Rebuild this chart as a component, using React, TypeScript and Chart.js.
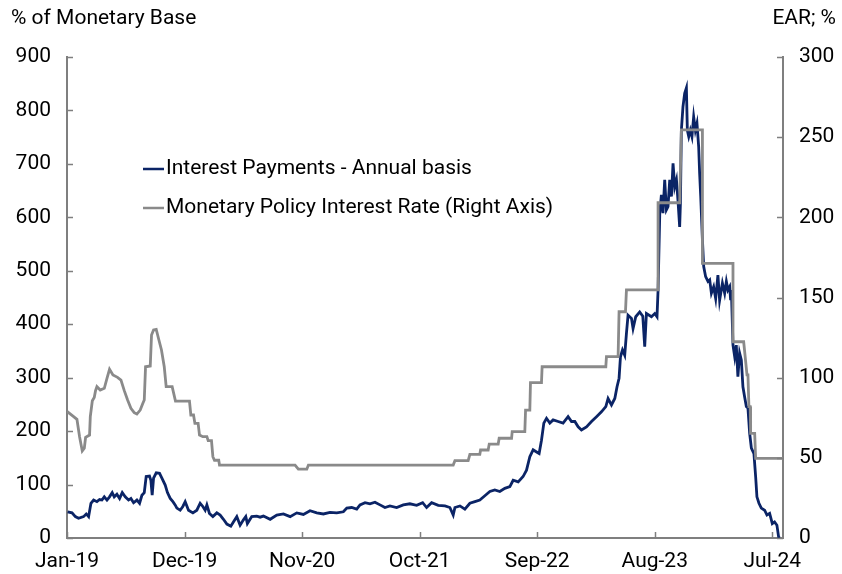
import React, { useEffect, useRef } from "react";
import { Chart, registerables } from "chart.js";

Chart.register(...registerables);

// x = months since Jan-2019
const tickMonths = [0, 11, 22, 33, 44, 55, 66];
const tickLabels = ["Jan-19", "Dec-19", "Nov-20", "Oct-21", "Sep-22", "Aug-23", "Jul-24"];

const leftTitle = "% of Monetary Base";
const rightTitle = "EAR; %";
const paymentsLabel = "Interest Payments - Annual basis";
const rateLabel = "Monetary Policy Interest Rate (Right Axis)";

// Interest payments, % of monetary base (left axis)
const paymentMonths = [
  0.06, 0.47, 0.78, 1.08, 1.55, 1.8, 2.02, 2.24, 2.49, 2.8, 3.05, 3.27, 3.49, 3.74, 3.98, 4.23, 4.42, 4.67,
  4.92, 5.17, 5.45, 5.76, 5.98, 6.23, 6.54, 6.79, 7.01, 7.23, 7.41, 7.72, 7.85, 7.97, 8.1, 8.35, 8.66, 8.88,
  9.19, 9.4, 9.66, 9.91, 10.12, 10.28, 10.59, 10.84, 11.06, 11.37, 11.78, 12.15, 12.46, 12.71, 12.93, 13.09,
  13.33, 13.65, 14.02, 14.33, 14.64, 14.96, 15.33, 15.57, 15.89, 16.2, 16.51, 16.73, 16.88, 17.29, 17.76, 18.07,
  18.38, 19.01, 19.63, 20.25, 20.88, 21.5, 22.12, 22.74, 23.37, 23.99, 24.61, 25.24, 25.86, 26.18, 26.64, 27.11,
  27.42, 27.89, 28.35, 28.82, 29.29, 29.75, 30.22, 30.85, 31.47, 32.09, 32.72, 33.28, 33.65, 34.12, 34.74, 35.37,
  35.83, 36.14, 36.3, 36.77, 37.23, 37.7, 38.17, 38.63, 39.1, 39.57, 40.03, 40.5, 40.97, 41.44, 41.75, 42.22,
  42.68, 43.0, 43.31, 43.62, 43.94, 44.18, 44.4, 44.62, 44.87, 45.18, 45.49, 45.96, 46.42, 46.89, 47.21, 47.52,
  47.83, 48.14, 48.61, 49.08, 49.55, 50.01, 50.42, 50.63, 50.95, 51.26, 51.47, 51.66, 51.79, 51.98, 52.19, 52.35,
  52.5, 52.82, 52.97, 53.22, 53.59, 53.88, 54.06, 54.22, 54.69, 55.0, 55.21, 55.31, 55.47, 55.62, 55.77, 55.93,
  56.09, 56.24, 56.4, 56.56, 56.71, 56.87, 57.03, 57.17, 57.33, 57.4, 57.49, 57.64, 57.8, 57.96, 58.05, 58.18,
  58.33, 58.48, 58.64, 58.8, 58.95, 59.11, 59.2, 59.3, 59.46, 59.58, 59.76, 59.98, 60.14, 60.3, 60.51, 60.7,
  60.91, 61.07, 61.33, 61.54, 61.7, 61.85, 62.01, 62.1, 62.17, 62.32, 62.48, 62.63, 62.78, 62.94, 63.1, 63.25,
  63.41, 63.57, 63.72, 63.88, 64.04, 64.28, 64.44, 64.56, 64.75, 64.97, 65.28, 65.5, 65.75, 66.0, 66.21, 66.43,
  66.59, 66.68,
];
const paymentValues = [
  49, 47, 40, 37, 40, 45, 40, 65, 71, 68, 72, 71, 77, 71, 77, 85, 77, 82,
  74, 85, 77, 71, 74, 66, 71, 65, 80, 85, 115, 116, 108, 80, 112, 122, 121, 112,
  99, 85, 74, 68, 62, 56, 52, 59, 68, 52, 47, 52, 65, 59, 52, 62,
  46, 40, 47, 43, 35, 26, 22, 30, 40, 24, 34, 40, 27, 40, 41, 39,
  41, 35, 43, 45, 40, 47, 44, 51, 47, 45, 48, 47, 49, 56, 57, 54,
  62, 66, 64, 67, 62, 57, 60, 57, 62, 64, 61, 66, 57, 66, 61, 60,
  57, 43, 57, 60, 54, 65, 68, 71, 79, 87, 90, 87, 93, 96, 108, 105,
  115, 127, 152, 165, 161, 158, 183, 215, 224, 215, 221, 218, 215, 227, 218, 218,
  208, 202, 208, 218, 227, 236, 246, 261, 249, 261, 283, 299, 339, 352, 342, 383,
  417, 411, 392, 414, 423, 415, 358, 420, 414, 420, 414, 464, 608, 642, 608, 670,
  614, 620, 670, 639, 701, 657, 670, 632, 582, 626, 763, 807, 832, 842, 763, 751,
  763, 751, 788, 763, 776, 732, 682, 639, 558, 508, 489, 480, 483, 458, 470, 448,
  492, 445, 477, 458, 480, 464, 470, 445, 464, 361, 339, 361, 302, 346, 333, 283,
  264, 246, 243, 196, 168, 158, 115, 77, 65, 56, 52, 43, 46, 27, 30, 24,
  2, 0,
];

// Monetary policy rate, EAR % (right axis)
const rateMonths = [
  0, 0.62, 0.93, 1.18, 1.43, 1.62, 1.74, 2.11, 2.18, 2.37, 2.55, 2.67, 2.8, 3.11, 3.49, 3.74, 3.98, 4.3,
  4.73, 5.05, 5.36, 5.67, 5.98, 6.29, 6.54, 6.85, 7.1, 7.23, 7.35, 7.79, 7.91, 8.1, 8.35, 8.6, 8.84, 9.1,
  9.28, 9.84, 10.15, 11.46, 11.59, 11.84, 11.97, 12.27, 12.4, 12.71, 13.09, 13.21, 13.52, 13.65, 13.8, 14.2,
  14.27, 21.34, 21.65, 22.44, 22.59, 36.14, 36.3, 37.54, 37.7, 38.63, 38.7, 39.41, 39.51, 40.35, 40.44, 41.6,
  41.66, 42.84, 42.91, 43.31, 43.37, 44.4, 44.46, 50.42, 50.48, 51.57, 51.66, 52.26, 52.35, 55.31, 55.31, 57.33,
  57.49, 59.46, 59.46, 62.32, 62.32, 63.32, 63.63, 63.72, 63.81, 63.93, 63.97, 64.35, 64.44, 67,
];
const rateValues = [
  79, 75.7, 74, 63, 54.3, 56, 62.8, 64.2, 75.7, 85.6, 87.7, 91.9, 94.4, 92.3, 93.4, 99.6, 105.2, 101.7,
  100.2, 98.5, 91.9, 86.1, 80.9, 78.2, 77.3, 79.8, 84, 86.1, 106.8, 107.3, 126.6, 129.7, 130.1, 123.5, 117.3, 106.8,
  94.4, 94.4, 85.4, 85.4, 76.7, 76.7, 71.5, 71.5, 64.2, 63.2, 63.2, 60.7, 60.7, 50.7, 48.5, 48.5,
  45.5, 45.5, 42.9, 42.9, 45.5, 45.5, 48.2, 48.2, 52.2, 52.2, 54.9, 54.9, 58.6, 58.6, 62.2, 62.2,
  66.3, 66.3, 79.8, 79.8, 96.9, 96.9, 106.8, 106.8, 113.1, 113.1, 141.1, 141.1, 154.7, 154.7, 209.1, 209.1,
  254.5, 254.5, 171.3, 171.3, 122.4, 122.4, 101.7, 101.7, 82, 82, 65.3, 65.3, 49.7, 49.7,
];

const BLUE = "#0b2466";
const GRAY = "#8a8a8a";
const AXIS = "#7f7f7f";
const FONT = "Roboto, 'Noto Sans', sans-serif";
const FS = 21;

export default function App() {
  const ref = useRef<HTMLCanvasElement | null>(null);

  useEffect(() => {
    const canvas = ref.current;
    if (!canvas) return;

    const overlay = {
      id: "overlay",
      afterDraw(chart: any) {
        const { ctx, chartArea, scales } = chart;
        const { left, right, bottom } = chartArea;
        ctx.save();
        // inward tick marks
        ctx.strokeStyle = AXIS;
        ctx.lineWidth = 1.5;
        ctx.beginPath();
        for (let v = 0; v <= 900; v += 100) {
          const y = Math.round(scales.y.getPixelForValue(v)) + 0.5;
          ctx.moveTo(left, y);
          ctx.lineTo(left + 6, y);
        }
        for (let v = 0; v <= 300; v += 50) {
          const y = Math.round(scales.y1.getPixelForValue(v)) + 0.5;
          ctx.moveTo(right, y);
          ctx.lineTo(right - 6, y);
        }
        for (const m of tickMonths) {
          const x = Math.round(scales.x.getPixelForValue(m)) + 0.5;
          ctx.moveTo(x, bottom);
          ctx.lineTo(x, bottom - 6);
        }
        ctx.stroke();

        // titles
        ctx.fillStyle = "#000";
        ctx.font = `${FS}px ${FONT}`;
        ctx.textBaseline = "middle";
        ctx.textAlign = "left";
        ctx.fillText(leftTitle, 11, 19);
        ctx.textAlign = "right";
        ctx.fillText(rightTitle, 836, 19);

        // legend
        const items = [
          { label: paymentsLabel, color: BLUE, y: 169 },
          { label: rateLabel, color: GRAY, y: 208 },
        ];
        ctx.textAlign = "left";
        for (const it of items) {
          ctx.strokeStyle = it.color;
          ctx.lineWidth = 2.5;
          ctx.beginPath();
          ctx.moveTo(143, it.y);
          ctx.lineTo(164, it.y);
          ctx.stroke();
          ctx.fillStyle = "#000";
          ctx.fillText(it.label, 166, it.y);
        }
        ctx.restore();
      },
    };

    const chart = new Chart(canvas, {
      type: "line",
      data: {
        datasets: [
          {
            label: paymentsLabel,
            data: paymentMonths.map((m, i) => ({ x: m, y: paymentValues[i] })),
            borderColor: BLUE,
            borderWidth: 2.8,
            pointRadius: 0,
            tension: 0,
            yAxisID: "y",
            order: 1,
          },
          {
            label: rateLabel,
            data: rateMonths.map((m, i) => ({ x: m, y: rateValues[i] })),
            borderColor: GRAY,
            borderWidth: 2.8,
            pointRadius: 0,
            tension: 0,
            yAxisID: "y1",
            order: 0,
          },
        ],
      },
      options: {
        animation: false,
        responsive: false,
        devicePixelRatio: 1,
        layout: { padding: { top: 57, left: 0, right: 0, bottom: 0 } },
        plugins: { legend: { display: false }, tooltip: { enabled: false } },
        scales: {
          x: {
            type: "linear",
            min: 0,
            max: 67,
            border: { display: true, color: AXIS, width: 2 },
            grid: { drawOnChartArea: false, drawTicks: false },
            afterBuildTicks: (axis: any) => {
              axis.ticks = tickMonths.map((v) => ({ value: v }));
            },
            afterFit: (axis: any) => {
              axis.height = 36;
            },
            ticks: {
              autoSkip: false,
              maxRotation: 0,
              padding: 11,
              color: "#000",
              font: { family: FONT, size: FS },
              callback: (v: any) => {
                const i = tickMonths.indexOf(Number(v));
                return i >= 0 ? tickLabels[i] : "";
              },
            },
          },
          y: {
            position: "left",
            min: 0,
            max: 900,
            border: { display: true, color: AXIS, width: 2 },
            grid: { drawOnChartArea: false, drawTicks: false },
            afterFit: (axis: any) => {
              axis.width = 67;
            },
            ticks: {
              stepSize: 100,
              padding: 16,
              color: "#000",
              font: { family: FONT, size: FS },
            },
          },
          y1: {
            position: "right",
            min: 0,
            max: 300,
            border: { display: true, color: AXIS, width: 2 },
            grid: { drawOnChartArea: false, drawTicks: false },
            afterFit: (axis: any) => {
              axis.width = 59;
            },
            ticks: {
              stepSize: 50,
              padding: 16,
              color: "#000",
              font: { family: FONT, size: FS },
            },
          },
        },
      },
      plugins: [overlay],
    });

    return () => chart.destroy();
  }, []);

  return (
    <div style={{ position: "fixed", left: 0, top: 0, width: 842, height: 574, background: "#fff" }}>
      <canvas ref={ref} width={842} height={574} style={{ display: "block" }} />
    </div>
  );
}
